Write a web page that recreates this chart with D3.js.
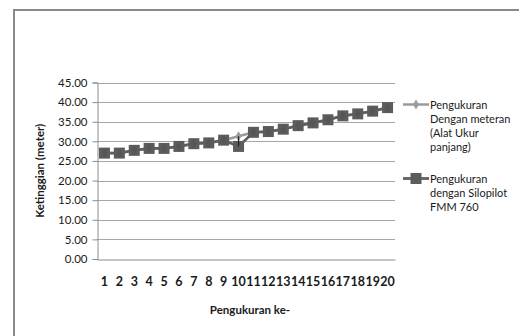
<!DOCTYPE html>
<html><head><meta charset="utf-8">
<script src="https://cdn.jsdelivr.net/npm/d3@7"></script>
<style>
html,body{margin:0;padding:0;background:#fff;}
svg{display:block;font-family:Lato,"Open Sans",sans-serif;}
</style></head>
<body><svg id="c" width="519" height="336"></svg>
<script>
const categories = ["1","2","3","4","5","6","7","8","9","10","11","12","13","14","15","16","17","18","19","20"];
const meteranValues = [27.0,27.0,27.7,28.2,28.2,28.7,29.4,29.6,30.3,31.3,32.3,32.5,33.1,34.0,34.7,35.5,36.5,37.0,37.7,38.6];
const silopilotValues = [27.0,27.0,27.7,28.2,28.2,28.7,29.4,29.6,30.3,28.7,32.3,32.5,33.1,34.0,34.7,35.5,36.5,37.0,37.7,38.6];
const yTicks = [0,5,10,15,20,25,30,35,40,45];
const seriesNames = [
  ["Pengukuran","Dengan meteran","(Alat Ukur","panjang)"],
  ["Pengukuran","dengan Silopilot","FMM 760"]
];
const yTitle = "Ketinggian (meter)";
const xTitle = "Pengukuran ke-";

const svg = d3.select("#c");
// chart border
svg.append("rect").attr("x",14).attr("y",10).attr("width",600).attr("height",400)
  .attr("fill","none").attr("stroke","#8a8a8a").attr("stroke-width",2);

const L=97, R=395, T=82.5, B=259;
const x = d3.scaleBand().domain(categories).range([L,R]);
const y = d3.scaleLinear().domain([0,45]).range([B,T]);

// gridlines
svg.append("g").selectAll("line").data(yTicks.slice(1)).join("line")
  .attr("x1",L).attr("x2",R).attr("y1",d=>Math.round(y(d))+0.5).attr("y2",d=>Math.round(y(d))+0.5)
  .attr("stroke","#a6a6a6").attr("stroke-width",1);

// y axis
const ya = svg.append("g").attr("transform",`translate(${L+0.5},0)`)
  .call(d3.axisLeft(y).tickValues(yTicks).tickFormat(d3.format(".2f")).tickSize(5).tickPadding(5));
ya.select(".domain").attr("stroke","#8c8c8c");
ya.selectAll(".tick line").attr("stroke","#8c8c8c");
ya.selectAll("text").attr("font-size","11.5px").attr("fill","#1a1a1a").attr("font-family","Lato,sans-serif");

// x axis
const xa = svg.append("g").attr("transform",`translate(0,${B+0.5})`)
  .call(d3.axisBottom(x).tickSize(0).tickPadding(18));
xa.select(".domain").attr("stroke","#8c8c8c");
xa.selectAll("text").attr("font-size","12.5px").attr("font-weight","bold").attr("fill","#1a1a1a").attr("font-family","Lato,sans-serif");

// titles
svg.append("text").attr("x",(L+R)/2+4).attr("y",314).attr("text-anchor","middle")
  .attr("font-size","11.5px").attr("font-weight","bold").attr("fill","#1a1a1a").text(xTitle);
svg.append("text").attr("transform",`translate(44,${(T+B)/2}) rotate(-90)`).attr("text-anchor","middle")
  .attr("font-size","11.5px").attr("font-weight","bold").attr("fill","#1a1a1a").text(yTitle);

const cx = d => x(d)+x.bandwidth()/2;
const line = d3.line().x((d,i)=>cx(categories[i])).y(d=>y(d));

// series 1 (diamond)
svg.append("path").datum(meteranValues).attr("d",line).attr("fill","none")
  .attr("stroke","#9a9a9a").attr("stroke-width",2.5);
// series 2 (square)
svg.append("path").datum(silopilotValues).attr("d",line).attr("fill","none")
  .attr("stroke","#606060").attr("stroke-width",2.8);
svg.append("g").selectAll("rect").data(silopilotValues).join("rect")
  .attr("x",(d,i)=>cx(categories[i])-5.5).attr("y",d=>y(d)-5.5).attr("width",11).attr("height",11)
  .attr("fill","#5c5c5c");
// diamond markers
const diamond = d3.symbol().type(d3.symbolDiamond).size(30);
svg.append("g").selectAll("path").data(meteranValues).join("path")
  .attr("d",diamond).attr("transform",(d,i)=>`translate(${cx(categories[i])},${y(d)})`)
  .attr("fill",(d,i)=>meteranValues[i]===silopilotValues[i] ? "#4a4a4a" : "#9a9a9a")
  .attr("opacity",(d,i)=>meteranValues[i]===silopilotValues[i] ? 0.35 : 1);
// connector at point 10
svg.append("line").attr("x1",cx(categories[9])).attr("x2",cx(categories[9]))
  .attr("y1",y(meteranValues[9])).attr("y2",y(silopilotValues[9]))
  .attr("stroke","#222").attr("stroke-width",1.2);

// legend
const lg = svg.append("g");
const lx0=403, lx1=429, ly1=104.5, ly2=178.5, lh=14.3;
lg.append("line").attr("x1",lx0).attr("x2",lx1).attr("y1",ly1).attr("y2",ly1).attr("stroke","#9a9a9a").attr("stroke-width",2.5);
lg.append("path").attr("d",diamond).attr("transform",`translate(${(lx0+lx1)/2},${ly1})`).attr("fill","#9a9a9a");
lg.append("line").attr("x1",lx0).attr("x2",lx1).attr("y1",ly2).attr("y2",ly2).attr("stroke","#606060").attr("stroke-width",2.8);
lg.append("rect").attr("x",(lx0+lx1)/2-5.5).attr("y",ly2-5.5).attr("width",11).attr("height",11).attr("fill","#5c5c5c");
[ly1,ly2].forEach((yy,k)=>{
  lg.append("g").selectAll("text").data(seriesNames[k]).join("text")
    .attr("x",430).attr("y",(d,i)=>yy+4+i*lh).attr("font-size","11px").attr("fill","#1a1a1a").text(d=>d);
});
</script></body></html>
